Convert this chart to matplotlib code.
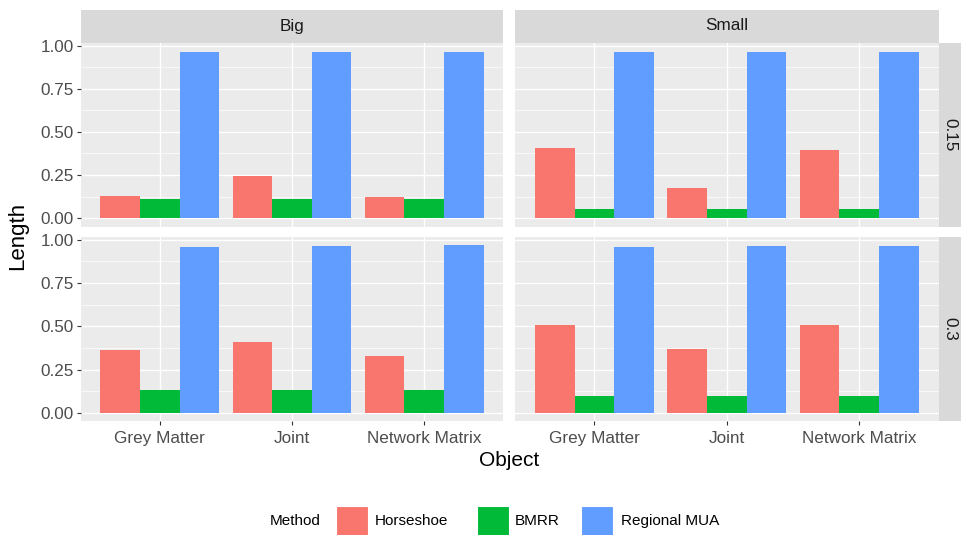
import matplotlib
matplotlib.use("Agg")
import matplotlib.pyplot as plt
from matplotlib.patches import Rectangle
from matplotlib.ticker import MultipleLocator

plt.rcParams['font.family'] = ['Liberation Sans', 'DejaVu Sans']

objects = ["Grey Matter", "Joint", "Network Matrix"]
methods = ["Horseshoe", "BMRR", "Regional MUA"]
colors = ["#F8766D", "#00BA38", "#619CFF"]
sizes = ["Big", "Small"]
noise_levels = ["0.15", "0.3"]
y_ticks = [0.00, 0.25, 0.50, 0.75, 1.00]

# values: [Horseshoe, BMRR, Regional MUA] per object
big_015_horseshoe = [0.127, 0.243, 0.121]
big_015_bmrr = [0.110, 0.110, 0.110]
big_015_mua = [0.960, 0.960, 0.965]

small_015_horseshoe = [0.405, 0.173, 0.393]
small_015_bmrr = [0.052, 0.052, 0.052]
small_015_mua = [0.960, 0.960, 0.960]

big_03_horseshoe = [0.363, 0.410, 0.329]
big_03_bmrr = [0.133, 0.133, 0.133]
big_03_mua = [0.958, 0.964, 0.969]

small_03_horseshoe = [0.508, 0.369, 0.508]
small_03_bmrr = [0.098, 0.098, 0.098]
small_03_mua = [0.958, 0.964, 0.964]

data = {
    ("0.15", "Big"): [big_015_horseshoe, big_015_bmrr, big_015_mua],
    ("0.15", "Small"): [small_015_horseshoe, small_015_bmrr, small_015_mua],
    ("0.3", "Big"): [big_03_horseshoe, big_03_bmrr, big_03_mua],
    ("0.3", "Small"): [small_03_horseshoe, small_03_bmrr, small_03_mua],
}

W, H = 961, 535
fig = plt.figure(figsize=(W / 100, H / 100), dpi=100)


def fbox(x0, y0, x1, y1):
    return [x0 / W, 1 - y1 / H, (x1 - x0) / W, (y1 - y0) / H]


col_x = [(80.5, 503.5), (515.0, 938.5)]
row_y = [(42.5, 226.5), (236.8, 421.4)]

ymax_all = max(max(max(s) for s in v) for v in data.values())
ylo, yhi = -0.05 * ymax_all, 1.05 * ymax_all

bar_w = 0.3
tick_col = "#4D4D4D"
TICK_FS = 12.3
for r, nl in enumerate(noise_levels):
    for c, sz in enumerate(sizes):
        x0, x1 = col_x[c]
        y0, y1 = row_y[r]
        ax = fig.add_axes(fbox(x0, y0, x1, y1))
        ax.set_facecolor("#EBEBEB")
        series = data[(nl, sz)]
        for j, (vals, col) in enumerate(zip(series, colors)):
            xs = [i + 1 + (j - 1) * bar_w for i in range(len(objects))]
            ax.bar(xs, vals, width=bar_w, color=col, zorder=3, linewidth=0)
        ax.set_xlim(0.4, 3.6)
        ax.set_ylim(ylo, yhi)
        ax.set_yticks(y_ticks)
        ax.yaxis.set_minor_locator(MultipleLocator(0.125))
        ax.set_xticks([1, 2, 3])
        ax.grid(True, which="major", color="white", linewidth=1.0, zorder=1)
        ax.grid(True, which="minor", axis="y", color="white", linewidth=0.5, zorder=1)
        for s in ax.spines.values():
            s.set_visible(False)
        ax.tick_params(which="minor", length=0)
        ax.tick_params(which="major", length=3, width=0.8, color="#333333",
                       labelcolor=tick_col, labelsize=TICK_FS, pad=2)
        ax.tick_params(axis="x", pad=4)
        if c == 0:
            ax.set_yticklabels([f"{v:.2f}" for v in y_ticks])
        else:
            ax.tick_params(axis="y", length=0, labelleft=False)
        if r == 1:
            ax.set_xticklabels(objects)
        else:
            ax.tick_params(axis="x", length=0, labelbottom=False)

# top strips
for c, sz in enumerate(sizes):
    x0, x1 = col_x[c]
    sax = fig.add_axes(fbox(x0, 9.5, x1, 42.5))
    sax.set_facecolor("#D9D9D9")
    sax.set_xticks([]); sax.set_yticks([])
    for s in sax.spines.values():
        s.set_visible(False)
    sax.text(0.5, 0.5, sz, ha="center", va="center", fontsize=TICK_FS,
             color="#1A1A1A", transform=sax.transAxes)

# right strips
for r, nl in enumerate(noise_levels):
    y0, y1 = row_y[r]
    sax = fig.add_axes(fbox(938.5, y0, 961, y1))
    sax.set_facecolor("#D9D9D9")
    sax.set_xticks([]); sax.set_yticks([])
    for s in sax.spines.values():
        s.set_visible(False)
    sax.text(0.5, 0.5, nl, ha="center", va="center", fontsize=TICK_FS,
             color="#1A1A1A", rotation=-90, transform=sax.transAxes)

# axis titles
fig.text(18 / W, 1 - 236 / H, "Length", rotation=90, ha="center", va="center",
         fontsize=16, color="black")
fig.text(509 / W, 1 - 461 / H, "Object", ha="center", va="center",
         fontsize=15, color="black")

# legend
LEG_FS = 11
fig.text(270 / W, 1 - 521 / H, "Method", ha="left", va="center", fontsize=LEG_FS,
         color="black")
key_x = [336, 477, 581]
label_x = [375, 515, 621]
for kx, lx, col, m in zip(key_x, label_x, colors, methods):
    fig.patches.append(Rectangle((kx / W, 1 - 536 / H), 32 / W, 30 / H,
                                 transform=fig.transFigure, facecolor=col,
                                 edgecolor="white", linewidth=0.8))
    fig.text(lx / W, 1 - 521 / H, m, ha="left", va="center", fontsize=LEG_FS,
             color="black")

fig.savefig("out.png", dpi=100, facecolor="white")
